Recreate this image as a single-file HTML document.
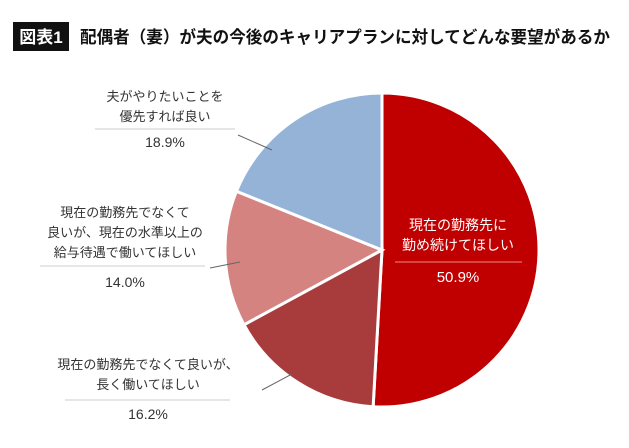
<!DOCTYPE html>
<html><head><meta charset="utf-8"><style>
body{margin:0;background:#fff;}
svg{display:block;font-family:"Liberation Sans","Noto Sans CJK JP",sans-serif;}
</style></head><body>
<svg id="c" width="629" height="448" viewBox="0 0 629 448">
<rect x="13" y="22" width="56" height="29" fill="#111"/>
<text x="41" y="43" fill="#fff" font-size="17" font-weight="bold" text-anchor="middle">図表1</text>
<text x="80" y="43" fill="#111" font-size="17" font-weight="bold" textLength="530" lengthAdjust="spacingAndGlyphs">配偶者（妻）が夫の今後のキャリアプランに対してどんな要望があるか</text>
<g id="slices"></g>
<g id="labels" font-size="13" fill="#333" text-anchor="middle"></g>
</svg>
<script>
const categories=["現在の勤務先に勤め続けてほしい","現在の勤務先でなくて良いが、長く働いてほしい","現在の勤務先でなくて良いが、現在の水準以上の給与待遇で働いてほしい","夫がやりたいことを優先すれば良い"];
const values=[50.9,16.2,14.0,18.9];
const valueLabels=["50.9%","16.2%","14.0%","18.9%"];
const colors=["#c00000","#a83c3c","#d48380","#95b3d7"];
const cx=382,cy=250,r=157;
const NS="http://www.w3.org/2000/svg";
const total=values.reduce((a,b)=>a+b,0);
function pt(frac,rad){const a=frac*2*Math.PI-Math.PI/2;return [cx+rad*Math.cos(a),cy+rad*Math.sin(a)];}
const g=document.getElementById('slices');
let acc=0;
values.forEach((v,i)=>{
  const s=acc/total,e=(acc+v)/total;acc+=v;
  const p0=pt(s,r),p1=pt(e,r);
  const large=(e-s)>0.5?1:0;
  const p=document.createElementNS(NS,'path');
  p.setAttribute('d',`M${cx},${cy}L${p0[0]},${p0[1]}A${r},${r} 0 ${large} 1 ${p1[0]},${p1[1]}Z`);
  p.setAttribute('fill',colors[i]);
  p.setAttribute('stroke','#fff');
  p.setAttribute('stroke-width','3');
  
  
  g.appendChild(p);
});
const L=document.getElementById('labels');
function txt(x,y,s,name,extra){const t=document.createElementNS(NS,'text');t.setAttribute('x',x);t.setAttribute('y',y);t.textContent=s;
  
  
  if(extra)for(const k in extra)t.setAttribute(k,extra[k]);L.appendChild(t);}
function line(x1,y1,x2,y2,col,name){const l=document.createElementNS(NS,'line');l.setAttribute('x1',x1);l.setAttribute('y1',y1);l.setAttribute('x2',x2);l.setAttribute('y2',y2);l.setAttribute('stroke',col);l.setAttribute('stroke-width','1');
  
  
  L.appendChild(l);}
txt(458,230,"現在の勤務先に","label-red-line1",{fill:"#fff","font-size":"14"});
txt(458,250,"勤め続けてほしい","label-red-line2",{fill:"#fff","font-size":"14"});
line(395,262,522,262,"#e88","separator-red");
txt(458,282,valueLabels[0],"value-red",{fill:"#fff","font-size":"15"});
txt(165,101,"夫がやりたいことを","label-blue-line1");
txt(165,121,"優先すれば良い","label-blue-line2");
line(95,129,235,129,"#ccc","separator-blue");
txt(165,147,valueLabels[3],"value-blue",{"font-size":"14"});
line(238,135,272,150,"#666","leader-blue");
txt(125,217,"現在の勤務先でなくて","label-pink-line1");
txt(125,237,"良いが、現在の水準以上の","label-pink-line2");
txt(125,257,"給与待遇で働いてほしい","label-pink-line3");
line(40,266,205,266,"#ccc","separator-pink");
txt(125,287,valueLabels[2],"value-pink",{"font-size":"14"});
line(210,268,240,262,"#666","leader-pink");
txt(148,369,"現在の勤務先でなくて良いが、","label-darkred-line1");
txt(148,389,"長く働いてほしい","label-darkred-line2");
line(65,400,230,400,"#ccc","separator-darkred");
txt(148,419,valueLabels[1],"value-darkred",{"font-size":"14"});
line(262,390,292,374,"#666","leader-darkred");
</script>
</body></html>
